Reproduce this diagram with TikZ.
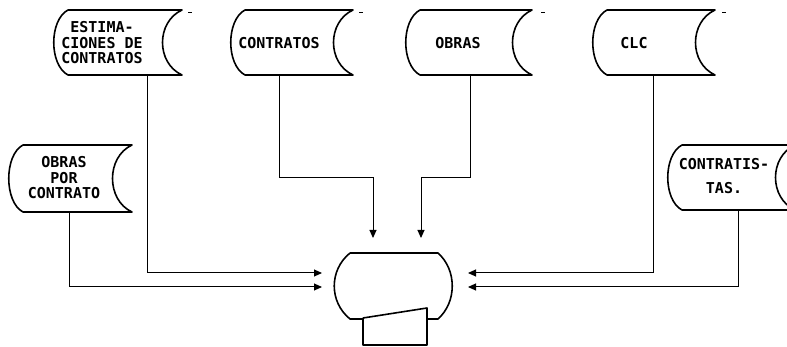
\documentclass[tikz,border=0pt]{standalone}
\usepackage{fontspec}
\newfontfamily\crtfont{DejaVu Sans Mono}
\usetikzlibrary{arrows.meta, calc}

% stored data symbol: left x, top y, right x, bottom y
\newcommand{\datafile}[4]{%
  \draw[shapeline] ({#1+15},#2) -- (#3,#2)
    .. controls ({#3-26},{#2+12}) and ({#3-26},{#4-12}) .. (#3,#4)
    -- ({#1+15},#4)
    .. controls ({#1-4},{#4-10}) and ({#1-4},{#2+10}) .. cycle;}

\begin{document}
\begin{tikzpicture}[x=1pt,y=-1pt,
    shapeline/.style={line width=1.6pt, line join=round},
    conn/.style={line width=1pt, -{Triangle[length=8pt,width=7pt]}},
    label/.style={font=\crtfont\bfseries\fontsize{15}{15.5}\selectfont, align=center, inner sep=0pt},
    tick/.style={line width=1pt}]
  \useasboundingbox (0,0) rectangle (787,347);
  \clip (0,0) rectangle (787,347);

  % top row of files
  \datafile{53}{10}{182}{75}
  \datafile{230}{10}{353}{75}
  \datafile{405}{10}{532}{75}
  \datafile{592}{10}{715}{75}
  \draw[tick] (188,13) -- (192,13);
  \draw[tick] (359,13) -- (363,13);
  \draw[tick] (541,13) -- (545,13);
  \draw[tick] (722,13) -- (726,13);

  \node[label] (est) at (102,43) {ESTIMA-\\CIONES DE\\CONTRATOS};
  \node[label] (con) at (279,43) {CONTRATOS};
  \node[label] (obr) at (458,43) {OBRAS};
  \node[label] (clc) at (634,43) {CLC};

  % side files
  \datafile{8}{145}{132}{212}
  \datafile{667}{145}{795}{210}
  \node[label] (opc) at (64,178) {OBRAS\\POR\\CONTRATO};
  \node[label] (cta) at (724,176) {CONTRATIS-\\[8pt]TAS.};

  % terminal with keyboard
  \draw[shapeline] (350,253) -- (438,253)
    .. controls (457,270) and (457,302) .. (438,319) -- (427,319);
  \draw[shapeline] (350,253)
    .. controls (329,270) and (329,302) .. (350,319) -- (363,319);
  \draw[shapeline] (363,318) -- (427,308) -- (427,345) -- (363,345) -- (363,318);
  \node[coordinate] (term) at (393,286) {};

  % connector ends
  \coordinate (est-out) at (147,75);
  \coordinate (con-out) at (279,75);
  \coordinate (obr-out) at (470,75);
  \coordinate (clc-out) at (653,75);
  \coordinate (opc-out) at (69,212);
  \coordinate (cta-out) at (738,210);
  \coordinate (in-l1) at (322,273);
  \coordinate (in-l2) at (322,287);
  \coordinate (in-r1) at (468,273);
  \coordinate (in-r2) at (468,287);
  \coordinate (in-t1) at (373,238);
  \coordinate (in-t2) at (421,238);

  \draw[conn] (est-out) |- (in-l1);
  \draw[conn] (opc-out) |- (in-l2);
  \draw[conn] (clc-out) |- (in-r1);
  \draw[conn] (cta-out) |- (in-r2);
  \draw[conn] (con-out) -- (279,178) -| (in-t1);
  \draw[conn] (obr-out) -- (470,178) -| (in-t2);
\end{tikzpicture}
\end{document}
